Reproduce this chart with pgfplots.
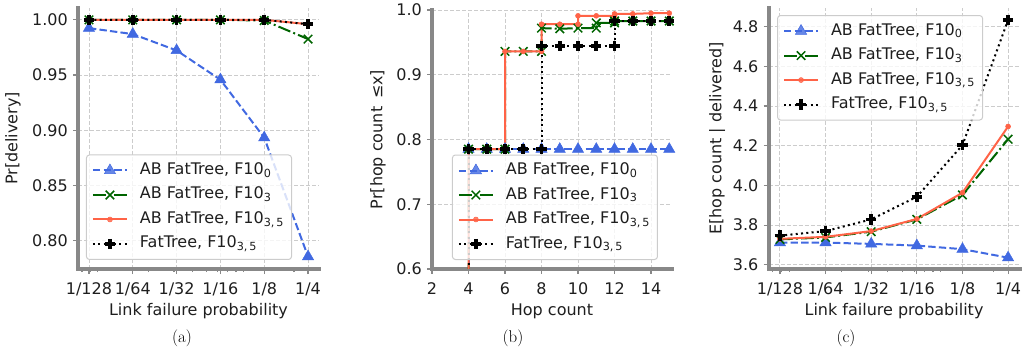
\documentclass[border=0pt]{standalone}
\usepackage{fontspec}
\setsansfont{DejaVu Sans}
\renewcommand{\familydefault}{\sfdefault}
\usepackage{pgfplots}
\pgfplotsset{compat=1.18}
\definecolor{cblue}{RGB}{65,105,225}
\definecolor{cgreen}{RGB}{0,100,0}
\definecolor{cred}{RGB}{255,99,71}
\definecolor{spinec}{RGB}{136,136,136}
\definecolor{gridc}{RGB}{204,204,204}
\definecolor{txt}{RGB}{30,30,30}
\newcommand{\fs}{\fontsize{16.06}{19}\selectfont}
\pgfplotsset{
  myaxis/.style={
    scale only axis,
    enlargelimits=false,
    axis x line*=bottom, axis y line*=left,
    axis line style={line width=4bp, color=spinec, line cap=rect, -},
    every tick/.style={color=spinec, line width=1.2bp},
    major tick length=5bp, minor tick length=3bp,
    tick align=outside,
    grid=major,
    major grid style={gridc, line width=0.9bp, dash pattern=on 4bp off 2bp},
    tick label style={font=\fs, text=txt},
    xticklabel style={inner sep=0pt, text height=12bp, text depth=0bp, anchor=north, yshift=-8bp},
    yticklabel style={inner sep=0pt, anchor=east, xshift=-5bp},
    every axis x label/.style={at={(axis description cs:0.5,-0.18)}, anchor=base, font=\fs, text=txt},
    legend style={font=\fs, text=txt, draw=gridc, line width=1bp, rounded corners=3bp,
      fill=white, fill opacity=0.8, text opacity=1, draw opacity=1,
      inner xsep=5.5bp, inner ysep=5.5bp, row sep=4.5bp,
      nodes={inner sep=2bp, text height=12bp, text depth=4bp},
      /tikz/every odd column/.append style={column sep=10bp}},
    legend cell align=left,
    legend image code/.code={\draw[mark repeat=2,mark phase=2] plot coordinates {(0bp,0bp) (17bp,0bp) (34bp,0bp)};},
  },
  ylab/.style={every axis y label/.style={at={(axis description cs:#1,0.5)}, rotate=90, anchor=center, font=\fs, text=txt}},
  sblue/.style={cblue, line width=2bp, dash pattern=on 7.4bp off 3.2bp, mark=triangle*, mark size=6.5bp, mark options={solid, fill=cblue, draw=cblue, line width=0.5bp}},
  sgreen/.style={cgreen, line width=2bp, dash pattern=on 12.8bp off 3.2bp on 2bp off 3.2bp, mark=x, mark size=6bp, mark options={solid, line width=1.5bp}},
  sred/.style={cred, line width=2bp, solid, mark=*, mark size=2.5bp, mark options={solid, fill=cred, draw=cred, line width=0.5bp}},
  sblack/.style={black, line width=2bp, dash pattern=on 2bp off 3.3bp, mark=+, mark size=5.2bp, mark options={solid, line width=3.6bp}},
}
\begin{document}
\begin{tikzpicture}[x=1bp,y=1bp]
\useasboundingbox (0,0) rectangle (1027,354);
% ---------------- (a)
\begin{axis}[myaxis,
  at={(78bp,85bp)}, anchor=south west, width=241bp, height=261bp,
  xmin=-7.25, xmax=-1.75, ymin=0.77425, ymax=1.01075,
  xtick={-7,-6,-5,-4,-3,-2}, xticklabels={1/128,1/64,1/32,1/16,1/8,1/4},
  minor xtick={-7.158,-6.966,-6.796,-5.644,-5.059,-4.644,-4.322,-4.059,-3.837,-3.644,-3.474,-2.322},
  ytick={0.80,0.85,0.90,0.95,1.00}, yticklabels={0.80,0.85,0.90,0.95,1.00},
  xlabel={Link failure probability}, ylabel={Pr[delivery]},
  ylab=-0.27,
  legend style={at={(0.033,0.0345)}, anchor=south west},
]
\addplot[sblue] coordinates {(-7,0.9925) (-6,0.9871) (-5,0.9723) (-4,0.9458) (-3,0.8932) (-2,0.7855)};
\addlegendentry{AB FatTree, F10\textsubscript{0}}
\addplot[sgreen] coordinates {(-7,1.0) (-6,1.0) (-5,1.0) (-4,1.0) (-3,0.9994) (-2,0.9826)};
\addlegendentry{AB FatTree, F10\textsubscript{3}}
\addplot[sred] coordinates {(-7,1.0) (-6,1.0) (-5,1.0) (-4,1.0) (-3,1.0) (-2,0.9961)};
\addlegendentry{AB FatTree, F10\textsubscript{3,\,5}}
\addplot[sblack] coordinates {(-7,1.0) (-6,1.0) (-5,1.0) (-4,1.0) (-3,1.0) (-2,0.9961)};
\addlegendentry{FatTree, F10\textsubscript{3,\,5}}
\end{axis}
% ---------------- (b)
\begin{axis}[myaxis,
  at={(432bp,85bp)}, anchor=south west, width=240bp, height=259bp,
  xmin=2, xmax=15.15, ymin=0.6, ymax=1.0,
  xtick={2,4,6,8,10,12,14}, xticklabels={2,4,6,8,10,12,14},
  ytick={0.6,0.7,0.8,0.9,1.0}, yticklabels={0.6,0.7,0.8,0.9,1.0},
  xlabel={Hop count}, ylabel={Pr[hop count \,≤x]},
  ylab=-0.225,
  legend style={at={(0.083,0.0347)}, anchor=south west},
]
\addplot[sblue] coordinates {(4,0) (4,0.785) (5,0.785) (6,0.785) (7,0.785) (8,0.785) (9,0.785) (10,0.785) (11,0.785) (12,0.785) (13,0.785) (14,0.785) (15,0.785)};
\addlegendentry{AB FatTree, F10\textsubscript{0}}
\addplot[sgreen] coordinates {(4,0) (4,0.785) (5,0.785) (6,0.785) (6,0.936) (7,0.936) (8,0.936) (8,0.972) (9,0.971) (10,0.972) (11,0.972) (11,0.980) (12,0.980) (12,0.983) (13,0.983) (14,0.983) (15,0.983)};
\addlegendentry{AB FatTree, F10\textsubscript{3}}
\addplot[sred] coordinates {(4,0) (4,0.785) (5,0.785) (6,0.785) (6,0.936) (7,0.936) (8,0.936) (8,0.978) (9,0.978) (10,0.978) (10,0.991) (11,0.991) (12,0.991) (12,0.994) (13,0.994) (14,0.995) (15,0.995)};
\addlegendentry{AB FatTree, F10\textsubscript{3,\,5}}
\addplot[sblack] coordinates {(4,0) (4,0.785) (5,0.785) (6,0.785) (7,0.785) (8,0.785) (8,0.944) (9,0.944) (10,0.944) (11,0.944) (12,0.944) (12,0.983) (13,0.983) (14,0.983) (15,0.983)};
\addlegendentry{FatTree, F10\textsubscript{3,\,5}}
\end{axis}
% ---------------- (c)
\begin{axis}[myaxis,
  at={(768.5bp,85bp)}, anchor=south west, width=251bp, height=261bp,
  xmin=-7.25, xmax=-1.75, ymin=3.579, ymax=4.894,
  xtick={-7,-6,-5,-4,-3,-2}, xticklabels={1/128,1/64,1/32,1/16,1/8,1/4},
  minor xtick={-7.158,-6.966,-6.796,-5.644,-5.059,-4.644,-4.322,-4.059,-3.837,-3.644,-3.474,-2.322},
  ytick={3.6,3.8,4.0,4.2,4.4,4.6,4.8}, yticklabels={3.6,3.8,4.0,4.2,4.4,4.6,4.8},
  xlabel={Link failure probability}, ylabel={E[hop count | delivered]},
  ylab=-0.205,
  legend style={at={(0.034,0.973)}, anchor=north west},
]
\addplot[sblue] coordinates {(-7,3.712) (-6,3.712) (-5,3.7055) (-4,3.697) (-3,3.679) (-2,3.636)};
\addlegendentry{AB FatTree, F10\textsubscript{0}}
\addplot[sgreen] coordinates {(-7,3.728) (-6,3.738) (-5,3.767) (-4,3.829) (-3,3.952) (-2,4.233)};
\addlegendentry{AB FatTree, F10\textsubscript{3}}
\addplot[sred] coordinates {(-7,3.731) (-6,3.741) (-5,3.77) (-4,3.831) (-3,3.9635) (-2,4.297)};
\addlegendentry{AB FatTree, F10\textsubscript{3,\,5}}
\addplot[sblack] coordinates {(-7,3.747) (-6,3.77) (-5,3.829) (-4,3.943) (-3,4.203) (-2,4.834)};
\addlegendentry{FatTree, F10\textsubscript{3,\,5}}
\end{axis}
% captions
\node[anchor=base, font=\rmfamily\fontsize{17}{20}\selectfont] at (182,12) {(a)};
\node[anchor=base, font=\rmfamily\fontsize{17}{20}\selectfont] at (513,12) {(b)};
\node[anchor=base, font=\rmfamily\fontsize{17}{20}\selectfont] at (846,12) {(c)};
\end{tikzpicture}
\end{document}
